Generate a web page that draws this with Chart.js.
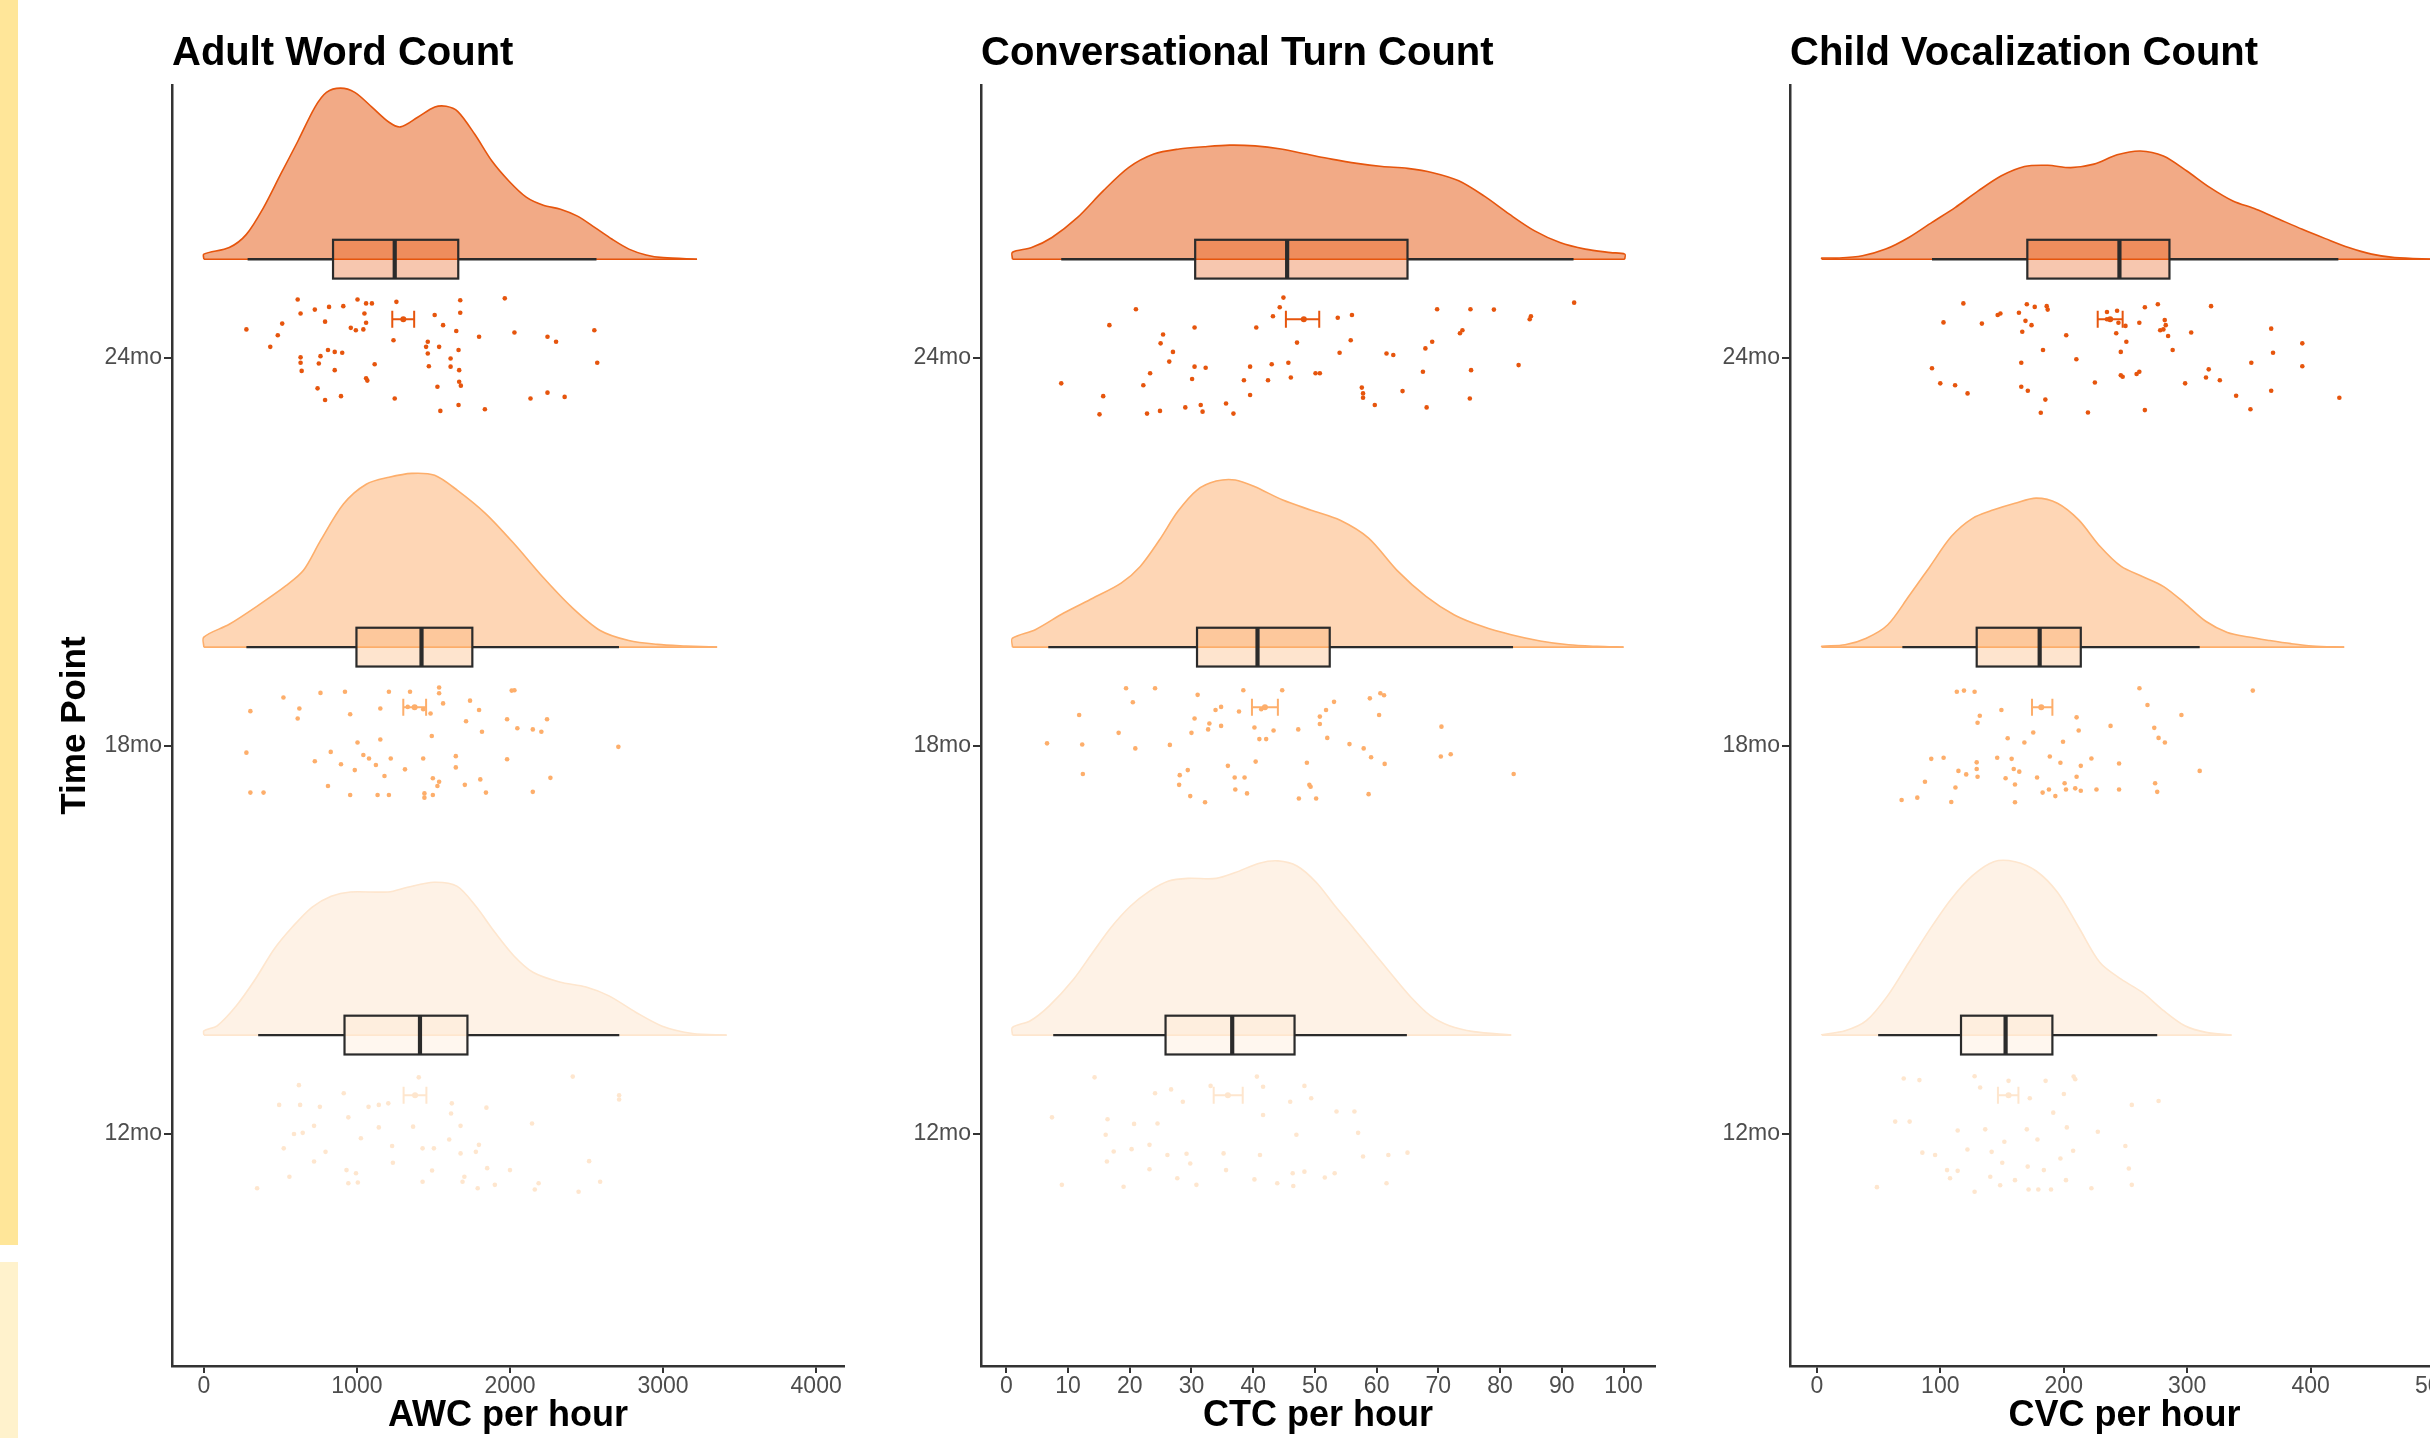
<!DOCTYPE html>
<html>
<head>
<meta charset="utf-8">
<script src="https://cdn.jsdelivr.net/npm/chart.js@4.4.1/dist/chart.umd.min.js"></script>
<style>
html, body { margin: 0; padding: 0; background: #fff; overflow: hidden; width: 2430px; height: 1438px; }
#stripTop { position: absolute; left: 0; top: 0; width: 18px; height: 1245px; background: #ffe699; }
#stripBottom { position: absolute; left: 0; top: 1262px; width: 18px; height: 176px; background: #fff2cc; }
.panel { position: absolute; top: 0; height: 1438px; }
</style>
</head>
<body>
<div id="stripTop"></div>
<div id="stripBottom"></div>
<div class="panel" style="left:20px; width:828px"><canvas id="awcChart"></canvas></div>
<div class="panel" style="left:880px; width:779px"><canvas id="ctcChart"></canvas></div>
<div class="panel" style="left:1690px; width:773px"><canvas id="cvcChart"></canvas></div>
<script>
// categories (bottom to top) and group colours
const timePoints = ['12mo', '18mo', '24mo'];
const groupColors = ['#FEE6CE', '#FDAE6B', '#E6550D'];
const groupRgb = [[254, 230, 206], [253, 174, 107], [230, 85, 13]];

// tick labels
const awcTicks = [0, 1000, 2000, 3000, 4000];
const ctcTicks = [0, 10, 20, 30, 40, 50, 60, 70, 80, 90, 100];
const cvcTicks = [0, 100, 200, 300, 400, 500];

// box stats per time point: [whisker low, q1, median, q3, whisker high]
const awcBoxes = [[355, 919, 1412, 1722, 2714], [278, 997, 1422, 1754, 2712], [286, 844, 1247, 1662, 2565]];
const ctcBoxes = [[7.6, 25.8, 36.6, 46.7, 64.9], [6.8, 30.9, 40.7, 52.4, 82.1], [8.9, 30.6, 45.5, 65.0, 91.9]];
const cvcBoxes = [[49.7, 116.8, 152.9, 190.8, 275.7], [69.3, 129.5, 180.5, 213.8, 310.1], [93.3, 170.5, 245.1, 285.6, 422.4]];

// mean with error bar: [mean, low, high]
const awcMeans = [[1380, 1305, 1454], [1377, 1303, 1452], [1303, 1231, 1374]];
const ctcMeans = [[35.9, 33.6, 38.3], [41.9, 39.8, 44.0], [48.2, 45.3, 50.7]];
const cvcMeans = [[155.3, 146.7, 163.3], [181.8, 174.3, 190.8], [237.6, 227.5, 247.7]];

// half-violin densities: [value, height in axis units]
const awcDensity12 = [[0,.011],[87,.024],[211,.075],[336,.144],[460,.222],[584,.281],[708,.330],[832,.358],[957,.369],[1205,.369],[1330,.381],[1503,.394],[1653,.384],[1777,.332],[1901,.265],[2026,.204],[2150,.162],[2324,.137],[2497,.124],[2647,.101],[2821,.059],[2995,.023],[3193,.004],[3415,0]];
const awcDensity18 = [[0,.026],[166,.059],[353,.107],[539,.159],[651,.198],[763,.275],[912,.369],[1061,.420],[1210,.438],[1359,.448],[1508,.443],[1657,.404],[1844,.343],[2030,.265],[2216,.180],[2403,.103],[2589,.043],[2776,.017],[2962,.007],[3149,.003],[3353,0]];
const awcDensity24 = [[0,.013],[166,.030],[278,.064],[390,.133],[502,.219],[614,.304],[726,.392],[801,.430],[893,.441],[986,.430],[1098,.392],[1210,.353],[1285,.341],[1397,.366],[1509,.392],[1583,.394],[1658,.381],[1770,.322],[1882,.253],[1994,.201],[2106,.160],[2218,.139],[2330,.129],[2441,.111],[2553,.082],[2665,.052],[2777,.026],[2889,.011],[3001,.004],[3222,0]];

const ctcDensity12 = [[1.0,.020],[3.9,.037],[7.0,.076],[10.9,.144],[14.0,.213],[17.0,.278],[20.1,.332],[23.2,.371],[26.3,.397],[29.4,.404],[34.0,.404],[37.1,.419],[41.0,.443],[44.0,.449],[47.1,.436],[50.2,.394],[53.3,.332],[56.4,.273],[59.5,.213],[62.6,.153],[65.6,.097],[68.7,.050],[71.8,.024],[75.7,.009],[81.8,0]];
const ctcDensity18 = [[1.0,.023],[4.7,.045],[9.3,.088],[14.0,.126],[18.6,.165],[21.7,.208],[24.8,.276],[27.8,.350],[30.9,.405],[34.0,.428],[37.1,.431],[40.2,.414],[44.8,.379],[49.4,.353],[54.1,.327],[58.7,.281],[63.3,.198],[68.0,.131],[72.6,.083],[77.2,.053],[81.8,.032],[86.5,.016],[91.1,.006],[95.7,.002],[100,0]];
const ctcDensity24 = [[1.0,.018],[4.1,.030],[7.4,.056],[11.5,.107],[15.7,.176],[19.8,.236],[23.9,.271],[28.0,.284],[32.1,.290],[36.2,.294],[40.3,.292],[44.5,.284],[48.6,.271],[52.7,.258],[56.8,.247],[60.9,.239],[65.0,.234],[69.1,.223],[73.3,.202],[77.4,.163],[81.5,.116],[85.6,.073],[89.7,.043],[93.8,.026],[97.9,.017],[100.2,.013]];

const cvcDensity12 = [[4,.001],[22.9,.011],[40.1,.037],[57.3,.101],[74.5,.187],[91.7,.273],[108.9,.351],[126.1,.411],[143.3,.447],[160.5,.447],[177.7,.423],[194.9,.368],[212.1,.278],[229.3,.187],[246.5,.144],[263.7,.110],[280.9,.063],[298.1,.024],[315.3,.007],[335.9,0]];
const cvcDensity18 = [[4,.002],[22.9,.006],[40.1,.023],[57.3,.057],[74.5,.131],[91.7,.208],[108.9,.285],[126.1,.332],[143.3,.354],[160.5,.371],[177.7,.384],[194.9,.371],[212.1,.328],[229.3,.260],[246.5,.208],[263.7,.182],[280.9,.156],[298.1,.113],[315.3,.066],[332.5,.038],[349.7,.026],[366.9,.017],[384.1,.009],[401.3,.003],[427.1,0]];
const cvcDensity24 = [[4,.003],[18.3,.003],[37,.009],[55.8,.026],[74.5,.056],[93.3,.095],[112,.133],[130.7,.176],[149.5,.215],[168.2,.239],[187,.242],[205.7,.236],[224.5,.245],[243.2,.269],[262,.279],[280.7,.266],[299.4,.228],[318.2,.185],[337,.150],[355.7,.129],[374.4,.103],[393.2,.077],[411.9,.053],[430.7,.030],[449.4,.013],[468.1,.004],[500,0]];

// raw points: [value, vertical jitter around the time point]
const awcPoints12 = [[621,.126],[914,.105],[1404,.146],[2410,.148],[2713,.100],[2713,.089],[492,.075],[629,.075],[758,.070],[1076,.070],[1143,.075],[1205,.079],[1620,.079],[1615,.053],[1846,.068],[944,.043],[720,.021],[1143,.017],[1367,.019],[1677,.021],[2144,.027],[589,0],[646,.003],[1026,-.011],[1603,-.014],[1797,-.028],[522,-.037],[795,-.046],[1230,-.031],[1429,-.037],[1503,-.037],[1677,-.050],[1777,-.046],[720,-.071],[1235,-.074],[2517,-.070],[559,-.110],[932,-.093],[994,-.101],[1491,-.094],[1702,-.110],[1851,-.088],[2000,-.093],[348,-.140],[944,-.127],[1006,-.125],[1429,-.123],[1690,-.123],[1789,-.140],[1901,-.131],[2187,-.127],[2162,-.143],[2448,-.149],[2589,-.123]];
const awcPoints18 = [[520,.125],[762,.137],[922,.140],[1209,.140],[1347,.140],[1537,.151],[1537,.136],[2011,.143],[2029,.144],[304,.090],[624,.097],[613,.071],[956,.082],[1153,.097],[1332,.101],[1433,.095],[1481,.084],[1563,.110],[1739,.117],[1798,.093],[1713,.064],[1981,.069],[2242,.069],[2048,.046],[2149,.043],[2205,.037],[1817,.037],[1489,.026],[1153,.017],[1004,.009],[278,-.017],[829,-.015],[1042,-.023],[1079,-.032],[1221,-.032],[1433,-.032],[1646,-.026],[1981,-.034],[2708,-.002],[725,-.039],[896,-.047],[986,-.062],[1124,-.049],[1314,-.060],[1646,-.055],[1180,-.077],[1496,-.083],[1806,-.086],[2264,-.082],[1537,-.092],[811,-.103],[1526,-.103],[1705,-.100],[1843,-.120],[2149,-.118],[304,-.120],[390,-.120],[956,-.126],[1135,-.126],[1209,-.126],[1441,-.122],[1441,-.133],[1496,-.126]];
const awcPoints24 = [[613,.151],[1004,.151],[1258,.145],[1675,.149],[1966,.154],[725,.125],[818,.132],[911,.134],[1060,.141],[1098,.141],[632,.115],[1049,.115],[1508,.111],[1675,.117],[512,.089],[792,.094],[960,.078],[993,.072],[1042,.074],[1060,.091],[1563,.085],[278,.074],[1649,.070],[1798,.055],[2029,.066],[2245,.055],[2551,.072],[483,.059],[1239,.046],[1463,.042],[1452,.029],[1537,.029],[434,.029],[1664,.021],[2301,.042],[811,.021],[855,.016],[904,.014],[632,.002],[762,.005],[1463,.012],[1612,-.001],[2570,-.012],[632,-.012],[751,-.014],[1116,-.016],[1470,-.021],[1612,-.022],[639,-.033],[855,-.031],[1060,-.052],[1068,-.058],[1668,-.031],[1668,-.061],[1679,-.071],[743,-.078],[1526,-.074],[2245,-.089],[792,-.108],[896,-.098],[1247,-.104],[2134,-.104],[2357,-.100],[1664,-.121],[1545,-.136],[1836,-.132]];

const ctcPoints12 = [[14.3,.146],[40.6,.148],[24.1,.105],[26.7,.115],[33.1,.124],[41.6,.122],[48.3,.124],[28.6,.083],[46.0,.083],[49.4,.092],[7.4,.043],[16.4,.038],[20.7,.026],[24.5,.027],[41.6,.049],[53.5,.058],[56.4,.058],[47.0,-.002],[57.0,.003],[16.1,-.002],[17.4,-.045],[20.3,-.039],[23.2,-.028],[26.1,-.054],[29.2,-.051],[35.2,-.050],[41.1,-.054],[57.8,-.058],[61.9,-.054],[65.0,-.048],[16.3,-.071],[29.8,-.076],[23.2,-.091],[35.6,-.093],[46.4,-.101],[48.3,-.097],[53.2,-.101],[51.6,-.112],[9.0,-.131],[19.0,-.136],[27.7,-.114],[30.8,-.131],[40.2,-.117],[43.9,-.127],[46.5,-.134],[61.6,-.127]];
const ctcPoints18 = [[19.4,.149],[24.1,.149],[31.0,.132],[38.4,.144],[44.7,.144],[20.5,.113],[34.8,.101],[33.9,.093],[37.7,.089],[41.3,.095],[58.9,.123],[60.6,.136],[61.2,.131],[53.1,.114],[51.8,.093],[11.8,.080],[30.5,.071],[32.9,.058],[40.2,.048],[43.3,.040],[47.3,.043],[50.8,.076],[50.8,.057],[60.4,.080],[70.5,.050],[6.6,.007],[12.3,.004],[18.2,.034],[20.9,-.006],[26.5,.003],[30.0,.034],[32.7,.043],[34.8,.052],[41.0,.018],[42.1,.018],[52.0,.021],[55.6,.005],[57.9,-.006],[59.1,-.029],[40.4,-.040],[48.7,-.043],[35.9,-.051],[61.3,-.046],[70.4,-.027],[72.0,-.021],[12.4,-.072],[28.1,-.075],[29.4,-.062],[37.0,-.081],[38.6,-.081],[82.2,-.072],[28.0,-.100],[37.1,-.112],[39.0,-.122],[49.1,-.100],[49.3,-.105],[58.7,-.124],[29.8,-.129],[32.2,-.145],[47.4,-.135],[50.2,-.135]];
const ctcPoints24 = [[44.9,.156],[44.3,.131],[21.0,.126],[69.8,.126],[75.2,.126],[79.0,.125],[92.0,.143],[43.2,.108],[53.7,.104],[56.0,.111],[85.0,.108],[84.8,.100],[16.7,.085],[30.5,.079],[40.5,.079],[73.9,.072],[73.5,.064],[25.4,.061],[25.0,.038],[47.1,.040],[55.8,.046],[69.0,.042],[67.9,.025],[27.0,.016],[54.0,.014],[61.6,.012],[62.7,.008],[26.4,-.009],[30.5,-.022],[32.3,-.025],[39.5,-.022],[43.0,-.016],[45.7,-.012],[67.5,-.035],[75.3,-.031],[83.0,-.018],[23.3,-.039],[30.1,-.054],[38.5,-.057],[42.4,-.057],[46.1,-.050],[50.1,-.039],[50.8,-.039],[8.9,-.065],[22.2,-.070],[57.6,-.076],[57.8,-.091],[57.8,-.102],[64.2,-.085],[15.7,-.098],[39.5,-.095],[75.1,-.104],[15.1,-.145],[22.8,-.143],[24.9,-.136],[29.0,-.127],[31.5,-.121],[31.8,-.138],[35.6,-.117],[36.8,-.143],[59.7,-.121],[68.1,-.127]];

const cvcPoints12 = [[70.4,.143],[83.1,.139],[127.8,.149],[155.3,.137],[185.3,.137],[208.0,.148],[209.3,.141],[132.3,.120],[200.1,.103],[172.5,.092],[255.1,.075],[276.8,.085],[63.5,.032],[75.2,.032],[191.5,.055],[114.1,.009],[136.4,.012],[170.1,.012],[202.5,.017],[227.6,.006],[151.9,-.020],[249.9,-.031],[85.5,-.048],[95.8,-.054],[122.0,-.040],[141.6,-.046],[178.7,-.014],[207.6,-.043],[197.3,-.063],[105.5,-.093],[114.1,-.095],[150.2,-.074],[170.8,-.084],[183.9,-.093],[252.7,-.089],[107.9,-.114],[140.5,-.110],[160.5,-.119],[201.8,-.119],[222.4,-.140],[255.1,-.131],[48.7,-.137],[127.8,-.149],[148.5,-.132],[171.5,-.143],[179.4,-.143],[189.7,-.143]];
const cvcPoints18 = [[113.4,.140],[119.2,.143],[127.8,.140],[261.3,.149],[353.1,.143],[149.5,.093],[267.8,.106],[132.0,.078],[130.2,.060],[210.4,.074],[295.3,.080],[237.9,.052],[273.3,.047],[154.6,.020],[175.3,.035],[168.1,.009],[199.4,.011],[212.1,.040],[276.8,.021],[281.9,.009],[92.7,-.033],[102.7,-.030],[146.1,-.030],[157.8,-.033],[188.7,-.027],[197.3,-.043],[222.4,-.032],[129.5,-.042],[244.8,-.045],[213.8,-.051],[114.7,-.064],[121.0,-.073],[129.5,-.059],[130.2,-.079],[159.5,-.059],[164.0,-.066],[152.9,-.083],[178.4,-.081],[210.4,-.079],[310.1,-.064],[87.6,-.092],[112.3,-.107],[160.5,-.099],[200.7,-.096],[274.0,-.096],[275.7,-.118],[182.9,-.120],[188.0,-.112],[193.2,-.129],[201.8,-.112],[209.3,-.109],[213.8,-.115],[226.5,-.112],[244.8,-.112],[68.7,-.139],[81.4,-.133],[108.9,-.144],[160.5,-.145]];
const cvcPoints24 = [[118.7,.141],[170.1,.139],[176.5,.132],[186.2,.134],[187.0,.125],[265.7,.131],[276.2,.139],[319.3,.134],[102.6,.092],[133.7,.089],[146.5,.111],[148.7,.115],[163.7,.117],[169.0,.096],[173.9,.085],[202.0,.059],[235.0,.119],[243.2,.122],[235.0,.100],[244.3,.091],[250.0,.083],[261.2,.091],[281.8,.098],[282.6,.085],[278.1,.072],[280.7,.074],[284.5,.057],[303.2,.066],[368.0,.076],[166.4,.068],[242.5,.064],[250.7,.042],[183.2,.021],[246.2,.016],[288.2,.021],[393.2,.038],[369.5,.014],[93.3,-.026],[165.6,-.012],[210.2,-.003],[246.2,-.044],[247.7,-.048],[259.0,-.041],[261.2,-.035],[317.4,-.029],[315.2,-.050],[326.4,-.057],[351.9,-.012],[393.2,-.021],[100.0,-.065],[112.0,-.070],[122.1,-.091],[165.6,-.074],[170.9,-.084],[225.2,-.063],[298.3,-.065],[339.6,-.097],[368.0,-.084],[423.2,-.102],[185.1,-.107],[181.4,-.141],[219.6,-.140],[265.7,-.134],[351.2,-.132]];

// layout constants
const FONT = "'Liberation Sans', Arial, Helvetica, sans-serif";
const densityNudge = 0.255;
const boxHalf = 0.05;
const meanNudge = 0.1;
const capHalf = 0.022;

const panels = [
    {id: 'awcChart', title: 'Adult Word Count', xTitle: 'AWC per hour', xMin: -208, xMax: 4182, ticks: awcTicks,
     showYTitle: true, yWidth: 152,
     densities: [awcDensity12, awcDensity18, awcDensity24], points: [awcPoints12, awcPoints18, awcPoints24],
     boxes: awcBoxes, means: awcMeans},
    {id: 'ctcChart', title: 'Conversational Turn Count', xTitle: 'CTC per hour', xMin: -4.1, xMax: 105.1, ticks: ctcTicks,
     showYTitle: false, yWidth: 101,
     densities: [ctcDensity12, ctcDensity18, ctcDensity24], points: [ctcPoints12, ctcPoints18, ctcPoints24],
     boxes: ctcBoxes, means: ctcMeans},
    {id: 'cvcChart', title: 'Child Vocalization Count', xTitle: 'CVC per hour', xMin: -21.7, xMax: 520.1, ticks: cvcTicks,
     showYTitle: false, yWidth: 100,
     densities: [cvcDensity12, cvcDensity18, cvcDensity24], points: [cvcPoints12, cvcPoints18, cvcPoints24],
     boxes: cvcBoxes, means: cvcMeans}
];

function rgba(i, a){
    const c = groupRgb[i];
    return 'rgba(' + c[0] + ',' + c[1] + ',' + c[2] + ',' + a + ')';
}

function densityData(pairs, cat){
    const base = cat + densityNudge;
    const pts = [{x: pairs[0][0], y: base}];
    pairs.forEach(p => pts.push({x: p[0], y: base + p[1]}));
    const last = pairs[pairs.length - 1];
    if (last[1] > 0){
        pts.push({x: last[0], y: base});
    }
    return pts;
}

function make_box_plugin(panel){
    return {
        id: 'rainBoxes',
        afterDatasetsDraw(chart){
            const ctx = chart.ctx;
            const xs = chart.scales.x;
            const ys = chart.scales.y;
            ctx.save();
            panel.boxes.forEach((b, i) => {
                const cat = i + 1;
                const yMid = ys.getPixelForValue(cat + densityNudge);
                const yTop = ys.getPixelForValue(cat + densityNudge + boxHalf);
                const yBot = ys.getPixelForValue(cat + densityNudge - boxHalf);
                const px = b.map(v => xs.getPixelForValue(v));
                // whiskers
                ctx.strokeStyle = '#2b2b2b';
                ctx.lineWidth = 2.4;
                ctx.beginPath();
                ctx.moveTo(px[0], yMid); ctx.lineTo(px[1], yMid);
                ctx.moveTo(px[3], yMid); ctx.lineTo(px[4], yMid);
                ctx.stroke();
                // box
                ctx.fillStyle = rgba(i, 0.33);
                ctx.fillRect(px[1], yTop, px[3] - px[1], yBot - yTop);
                ctx.lineWidth = 2.2;
                ctx.strokeRect(px[1], yTop, px[3] - px[1], yBot - yTop);
                // median
                ctx.lineWidth = 4.2;
                ctx.beginPath();
                ctx.moveTo(px[2], yTop); ctx.lineTo(px[2], yBot);
                ctx.stroke();
                // mean and error bar
                const m = panel.means[i];
                const mp = m.map(v => xs.getPixelForValue(v));
                const yM = ys.getPixelForValue(cat + meanNudge);
                const yC1 = ys.getPixelForValue(cat + meanNudge + capHalf);
                const yC2 = ys.getPixelForValue(cat + meanNudge - capHalf);
                ctx.strokeStyle = groupColors[i];
                ctx.lineWidth = 2;
                ctx.beginPath();
                ctx.moveTo(mp[1], yM); ctx.lineTo(mp[2], yM);
                ctx.moveTo(mp[1], yC1); ctx.lineTo(mp[1], yC2);
                ctx.moveTo(mp[2], yC1); ctx.lineTo(mp[2], yC2);
                ctx.stroke();
                ctx.fillStyle = groupColors[i];
                ctx.beginPath();
                ctx.arc(mp[0], yM, 3, 0, Math.PI * 2);
                ctx.fill();
            });
            ctx.restore();
        }
    };
}

function draw_panel(panel){
    const datasets = [];
    panel.densities.forEach((dens, i) => {
        const cat = i + 1;
        const base = cat + densityNudge;
        datasets.push({
            data: densityData(dens, cat),
            borderColor: groupColors[i],
            backgroundColor: rgba(i, 0.5),
            borderWidth: 1.6,
            tension: 0.3,
            fill: {value: base},
            pointRadius: 0,
            order: 3
        });
        datasets.push({
            data: [{x: dens[0][0], y: base}, {x: dens[dens.length - 1][0], y: base}],
            borderColor: groupColors[i],
            borderWidth: 1.6,
            fill: false,
            pointRadius: 0,
            order: 2
        });
        datasets.push({
            data: panel.points[i].map(q => ({x: q[0], y: cat + q[1]})),
            showLine: false,
            pointRadius: 2.3,
            pointBorderWidth: 0,
            pointBackgroundColor: groupColors[i],
            order: 1
        });
    });

    const ctx = document.getElementById(panel.id).getContext('2d');
    new Chart(ctx, {
        type: 'line',
        data: {datasets: datasets},
        plugins: [make_box_plugin(panel)],
        options: {
            responsive: true,
            maintainAspectRatio: false,
            animation: false,
            events: [],
            layout: {padding: 0},
            plugins: {
                legend: {display: false},
                tooltip: {enabled: false},
                title: {
                    display: true,
                    text: panel.title,
                    align: 'start',
                    fullSize: false,
                    color: '#000',
                    font: {family: FONT, size: 40, weight: 'bold', lineHeight: 1.2},
                    padding: {top: 30, bottom: 7}
                }
            },
            scales: {
                x: {
                    type: 'linear',
                    min: panel.xMin,
                    max: panel.xMax,
                    afterBuildTicks: s => { s.ticks = panel.ticks.map(v => ({value: v})); },
                    afterFit: s => { s.height = 72; },
                    ticks: {
                        color: '#4d4d4d',
                        font: {family: FONT, size: 23},
                        padding: 0,
                        autoSkip: false,
                        maxRotation: 0,
                        callback: v => String(v)
                    },
                    grid: {drawOnChartArea: false, drawTicks: true, tickLength: 7, color: '#333', lineWidth: 2},
                    border: {color: '#333', width: 2.5},
                    title: {
                        display: true,
                        text: panel.xTitle,
                        color: '#000',
                        font: {family: FONT, size: 36, weight: 'bold', lineHeight: 1.2},
                        padding: 0
                    }
                },
                y: {
                    type: 'linear',
                    min: 0.402,
                    max: 3.704,
                    afterBuildTicks: s => { s.ticks = timePoints.map((t, i) => ({value: i + 1})); },
                    afterFit: s => { s.width = panel.yWidth; },
                    ticks: {
                        color: '#4d4d4d',
                        font: {family: FONT, size: 23},
                        padding: 2,
                        callback: v => timePoints[v - 1]
                    },
                    grid: {drawOnChartArea: false, drawTicks: true, tickLength: 8, color: '#333', lineWidth: 2},
                    border: {color: '#333', width: 2.5},
                    title: {
                        display: panel.showYTitle,
                        text: 'Time Point',
                        color: '#000',
                        font: {family: FONT, size: 35, weight: 'bold', lineHeight: 1.2},
                        padding: {top: 34, bottom: 0}
                    }
                }
            }
        }
    });
}

panels.forEach(draw_panel);
</script>
</body>
</html>
